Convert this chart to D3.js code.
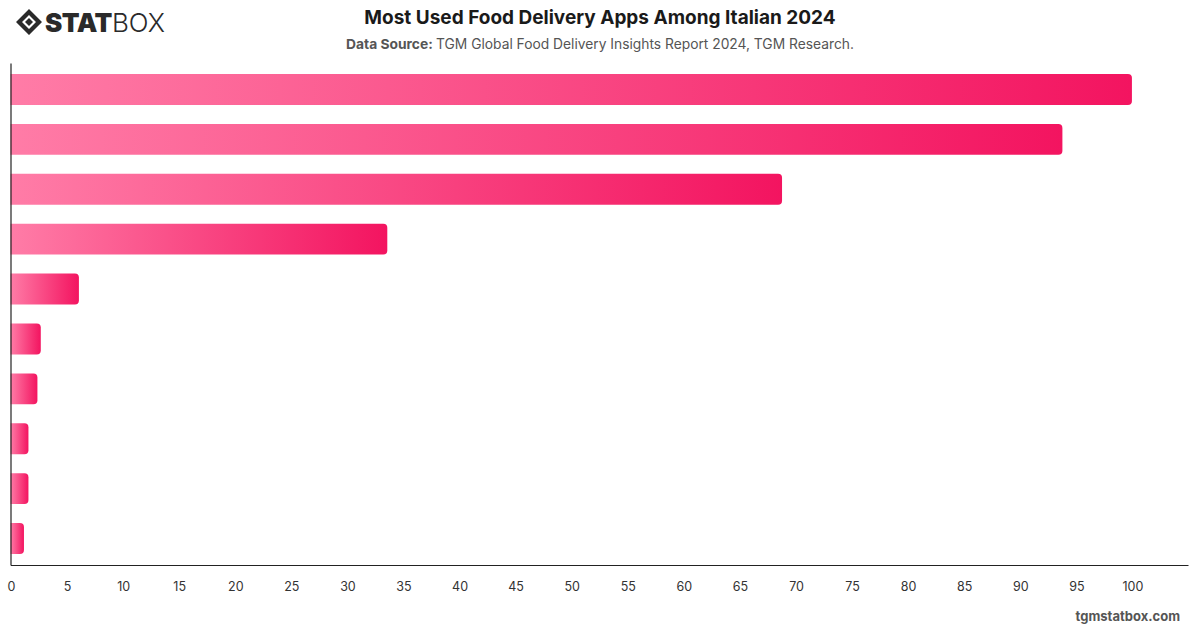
<!DOCTYPE html>
<html>
<head>
<meta charset="utf-8">
<script src="https://cdn.jsdelivr.net/npm/d3@7"></script>
<style>
  body { margin: 0; background: #fff; font-family: Inter, "Noto Sans", sans-serif; }
</style>
</head>
<body>
<div id="chart"></div>
<script>
const width = 1200;
const height = 628;

// data (category names are not shown on the chart)
const apps = ["App 1", "App 2", "App 3", "App 4", "App 5", "App 6", "App 7", "App 8", "App 9", "App 10"];
const shares = [100, 93.8, 68.8, 33.6, 6.1, 2.7, 2.4, 1.6, 1.6, 1.2];
const tickValues = d3.range(0, 101, 5);

const margin = { top: 63, right: 12, bottom: 63, left: 10.5 };

const svg = d3.select("#chart")
    .append("svg")
    .attr("width", width)
    .attr("height", height);

// gradient for the bars
const grad = svg.append("defs")
    .append("linearGradient")
    .attr("id", "barGrad")
    .attr("x1", "0%").attr("x2", "100%")
    .attr("y1", "0%").attr("y2", "0%");
grad.append("stop").attr("offset", "0%").attr("stop-color", "#ff7ca7");
grad.append("stop").attr("offset", "100%").attr("stop-color", "#f31460");

const x = d3.scaleLinear()
    .domain([0, 105])
    .range([margin.left, width - margin.right]);

const y = d3.scaleBand()
    .domain(apps)
    .range([margin.top, height - margin.bottom])
    .paddingInner(0.38)
    .paddingOuter(0.22);

// bars, rounded on the right end only
const r = 4;
svg.append("g")
    .selectAll("path")
    .data(apps)
    .join("path")
    .attr("fill", "url(#barGrad)")
    .attr("d", (d, i) => {
        const x0 = x(0), x1 = x(shares[i]);
        const y0 = y(d), h = y.bandwidth();
        const rr = Math.min(r, (x1 - x0) / 2);
        return `M${x0},${y0} H${x1 - rr} Q${x1},${y0} ${x1},${y0 + rr} V${y0 + h - rr} Q${x1},${y0 + h} ${x1 - rr},${y0 + h} H${x0} Z`;
    });

// axes
const xAxis = svg.append("g")
    .attr("transform", `translate(0,${height - margin.bottom})`)
    .call(d3.axisBottom(x).tickValues(tickValues).tickSize(0).tickPadding(17));
xAxis.select(".domain").attr("stroke", "#222").attr("stroke-width", 1.2);
xAxis.selectAll("text")
    .attr("font-family", "Inter, 'Noto Sans', sans-serif")
    .attr("font-size", 12.5)
    .attr("fill", "#333")
    .attr("dx", 0.5);

const yAxis = svg.append("g")
    .attr("transform", `translate(${margin.left},0)`)
    .call(d3.axisLeft(y).tickSize(0).tickFormat(""));
yAxis.select(".domain").attr("stroke", "#222").attr("stroke-width", 1.2);

// title
svg.append("text")
    .attr("x", 600)
    .attr("y", 24)
    .attr("text-anchor", "middle")
    .attr("font-size", 19)
    .attr("font-weight", "bold")
    .attr("fill", "#1a1a1a")
    .text("Most Used Food Delivery Apps Among Italian 2024");

const sub = svg.append("text")
    .attr("x", 600)
    .attr("y", 49)
    .attr("text-anchor", "middle")
    .attr("font-size", 13.8)
    .attr("fill", "#555");
sub.append("tspan").attr("font-weight", "bold").text("Data Source: ");
sub.append("tspan").text("TGM Global Food Delivery Insights Report 2024, TGM Research.");

// footer
svg.append("text")
    .attr("x", 1180)
    .attr("y", 621)
    .attr("text-anchor", "end")
    .attr("font-size", 13)
    .attr("font-weight", "bold")
    .attr("fill", "#555")
    .text("tgmstatbox.com");

// logo
const logo = svg.append("g").attr("transform", "translate(16,9)");
logo.append("path")
    .attr("d", "M13,0 L26,13 L13,26 L0,13 Z M13,6 L6,13 L13,20 L20,13 Z")
    .attr("fill", "#2a2a2a")
    .attr("fill-rule", "evenodd");
logo.append("path")
    .attr("d", "M13,9 L17,13 L13,17 L9,13 Z")
    .attr("fill", "#2a2a2a");
const lt = logo.append("text")
    .attr("x", 29)
    .attr("y", 23)
    .attr("font-size", 26)
    .attr("fill", "#2a2a2a");
lt.append("tspan").attr("font-weight", 900).attr("letter-spacing", -0.5).text("STAT");
lt.append("tspan").attr("font-weight", 300).text("BOX");
</script>
</body>
</html>
